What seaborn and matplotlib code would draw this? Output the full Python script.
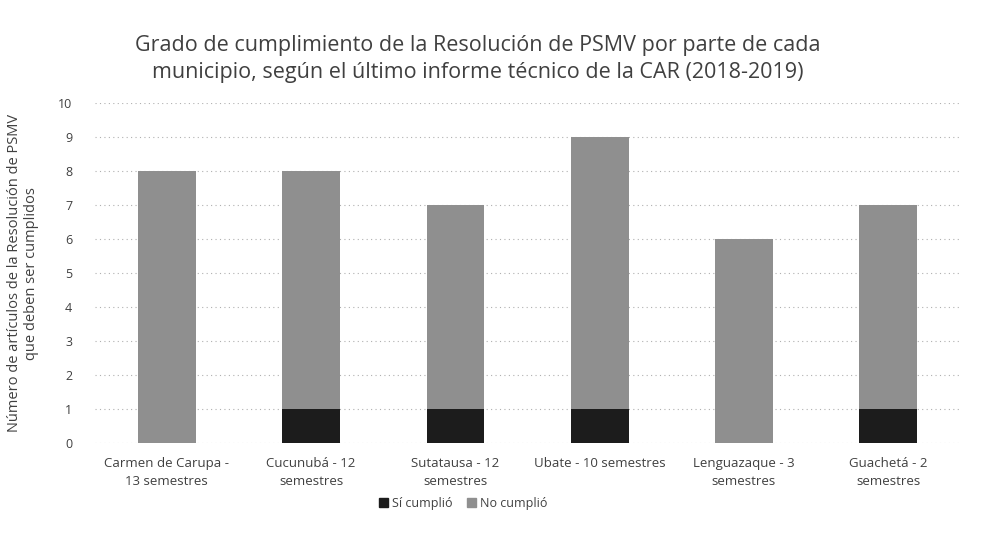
import numpy as np
import pandas as pd
from matplotlib import pyplot as plt
from matplotlib.patches import Patch
import seaborn as sns

municipios = ["Carmen de Carupa -\n13 semestres", "Cucunubá - 12\nsemestres",
              "Sutatausa - 12\nsemestres", "Ubate - 10 semestres",
              "Lenguazaque - 3\nsemestres", "Guachetá - 2\nsemestres"]
si_cumplio = [0, 1, 1, 1, 0, 1]
no_cumplio = [8, 7, 6, 8, 6, 6]

col_si = "#1c1c1c"
col_no = "#8f8f8f"

df = pd.DataFrame({"municipio": municipios, "si": si_cumplio, "no": no_cumplio})
df["total"] = df["si"] + df["no"]

sns.set_style("white")
plt.rcParams["font.family"] = ["Open Sans", "DejaVu Sans"]

fig = plt.figure(figsize=(9.86, 5.34), dpi=100)
ax = fig.add_axes([0.096, 0.170, 0.878, 0.637])

sns.barplot(data=df, x="municipio", y="total", color=col_no, width=0.4,
            saturation=1, linewidth=0, ax=ax, zorder=2)
sns.barplot(data=df, x="municipio", y="si", color=col_si, width=0.4,
            saturation=1, linewidth=0, ax=ax, zorder=3)

ax.set_ylim(0, 10)
ax.set_yticks(range(0, 11))
ax.yaxis.grid(True, color="#b0b0b0", linestyle=(0, (1, 3)), linewidth=0.8, zorder=0)
ax.set_axisbelow(True)
for s in ax.spines.values():
    s.set_visible(False)
ax.tick_params(axis="y", length=0, labelsize=9, colors="#404040", pad=16)
ax.tick_params(axis="x", length=0, labelsize=9.5, colors="#404040", pad=10)
for lbl in ax.get_xticklabels():
    lbl.set_linespacing(1.5)
ax.set_xlabel("")
ax.set_ylabel("Número de artículos de la Resolución de PSMV\nque deben ser cumplidos",
              fontsize=10.5, color="#404040", labelpad=14)

fig.suptitle("Grado de cumplimiento de la Resolución de PSMV por parte de cada\n"
             "municipio, según el último informe técnico de la CAR (2018-2019)",
             x=0.485, y=0.935, fontsize=15.5, color="#404040", linespacing=1.4)

handles = [Patch(color=col_si, label="Sí cumplió"), Patch(color=col_no, label="No cumplió")]
fig.legend(handles=handles, loc="center", bbox_to_anchor=(0.47, 0.058), ncol=2,
           frameon=False, fontsize=9, handlelength=0.7, handleheight=0.7,
           columnspacing=1.2, handletextpad=0.3, labelcolor="#404040")

fig.savefig("out.png", dpi=100)
